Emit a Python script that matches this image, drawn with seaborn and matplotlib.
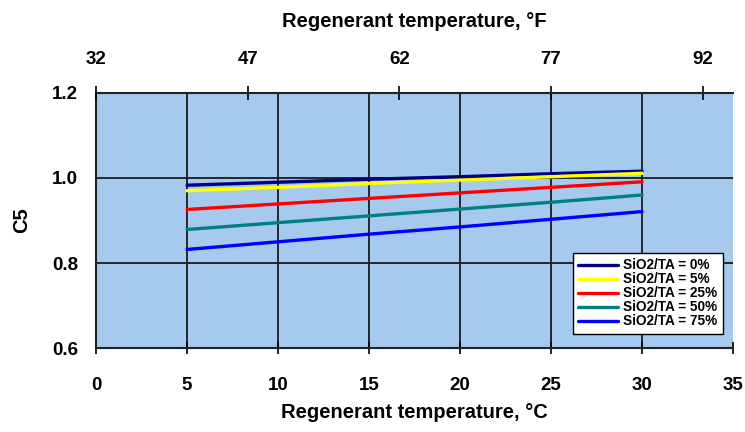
import matplotlib
matplotlib.use("Agg")
import matplotlib.pyplot as plt
import seaborn as sns
import pandas as pd

temps_c = [5, 10, 15, 20, 25, 30]
series_names = ["SiO2/TA = 0%", "SiO2/TA = 5%", "SiO2/TA = 25%", "SiO2/TA = 50%", "SiO2/TA = 75%"]
c5_0 = [0.983, 0.990, 0.997, 1.003, 1.010, 1.016]
c5_5 = [0.970, 0.978, 0.987, 0.995, 1.003, 1.011]
c5_25 = [0.926, 0.939, 0.952, 0.965, 0.978, 0.991]
c5_50 = [0.879, 0.895, 0.911, 0.927, 0.943, 0.960]
c5_75 = [0.832, 0.850, 0.868, 0.885, 0.903, 0.921]
colors = ["#000080", "#FFFF00", "#FF0000", "#008080", "#0000FF"]
xticks_c = [0, 5, 10, 15, 20, 25, 30, 35]
yticks = [0.6, 0.8, 1.0, 1.2]
fticks = [32, 47, 62, 77, 92]

rows = []
for name, vals in zip(series_names, [c5_0, c5_5, c5_25, c5_50, c5_75]):
    for t, v in zip(temps_c, vals):
        rows.append({"T": t, "C5": v, "series": name})
df = pd.DataFrame(rows)

sns.set_style("white")
plt.rcParams['font.family'] = ['Liberation Sans', 'DejaVu Sans']
plt.rcParams['font.weight'] = 'bold'
plt.rcParams['text.color'] = 'black'
plt.rcParams['axes.labelcolor'] = 'black'
plt.rcParams['xtick.color'] = 'black'
plt.rcParams['ytick.color'] = 'black'

fig = plt.figure(figsize=(7.45, 4.32), dpi=100)
ax = fig.add_axes([0.129, 0.194, 0.855, 0.591])
ax.set_facecolor("#A6C9EE")

sns.lineplot(data=df, x="T", y="C5", hue="series", palette=colors,
             hue_order=series_names, linewidth=2.4, ax=ax, legend=True)

ax.set_xlim(0, 35)
ax.set_ylim(0.6, 1.2)
ax.set_xticks(xticks_c)
ax.set_yticks(yticks)
ax.set_xticklabels([str(t) for t in xticks_c], fontsize=13.5, fontweight='bold')
ax.set_yticklabels([f"{t:.1f}" for t in yticks], fontsize=13.5, fontweight='bold')
for x in xticks_c[1:-1]:
    ax.axvline(x, color="#1a1a1a", lw=1.3, zorder=0.5)
for y in [0.8, 1.0]:
    ax.axhline(y, color="#1a1a1a", lw=1.3, zorder=0.5)
ax.tick_params(axis='y', direction='inout', length=8, width=1.2, pad=9, colors='black')
ax.tick_params(axis='x', direction='inout', length=8, width=1.2, pad=17, colors='black')
for s in ["top", "right"]:
    ax.spines[s].set_visible(False)
for s in ["left", "bottom"]:
    ax.spines[s].set_color("#222222")
    ax.spines[s].set_linewidth(1.5)
ax.set_xlabel("Regenerant temperature, °C", fontsize=14.5, fontweight='bold', labelpad=6, color='black')
ax.set_ylabel("C5", fontsize=14.5, fontweight='bold', labelpad=15, color='black')

ax2 = ax.twiny()
ax2.set_xlim(0, 35)
ax2.set_xticks([(f - 32) * 5 / 9 for f in fticks])
ax2.set_xticklabels([str(f) for f in fticks], fontsize=13.5, fontweight='bold')
ax2.tick_params(axis='x', direction='inout', length=10, width=1.2, pad=13, colors='black')
for s in ["bottom", "right", "left"]:
    ax2.spines[s].set_visible(False)
ax2.spines["top"].set_color("#222222")
ax2.spines["top"].set_linewidth(1.5)
ax2.set_xlabel("Regenerant temperature, °F", fontsize=14.5, fontweight='bold', labelpad=17, color='black')

leg = ax.legend(loc="lower right", bbox_to_anchor=(0.995, 0.03), fontsize=9.8,
                frameon=True, fancybox=False, edgecolor="black", framealpha=1,
                handlelength=2.9, labelspacing=0.0, borderpad=0.4, handletextpad=0.4)
leg.get_frame().set_linewidth(1.0)
for line in leg.get_lines():
    line.set_linewidth(2.4)
for t in leg.get_texts():
    t.set_color('black')

fig.savefig("out.png", dpi=100)
